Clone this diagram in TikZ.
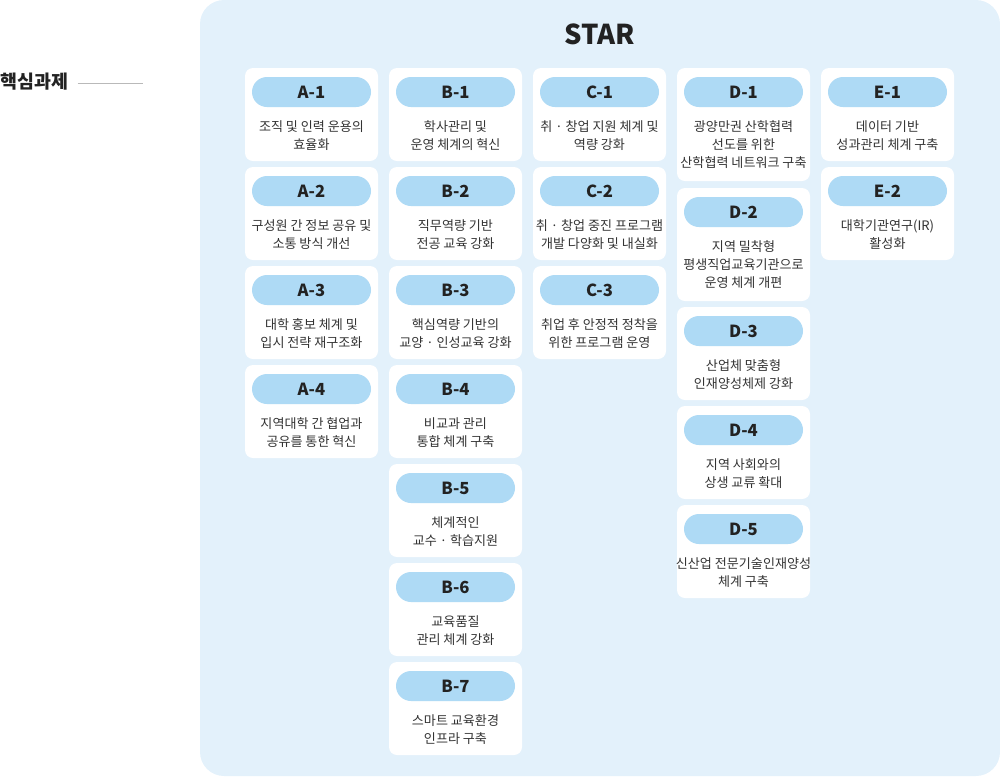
\documentclass[tikz,border=0pt]{standalone}
\usepackage{fontspec}
\setmainfont{Noto Sans CJK KR}
\usetikzlibrary{positioning}
\definecolor{panelbg}{HTML}{E3F1FB}
\definecolor{pillbg}{HTML}{AEDAF5}
\definecolor{ink}{HTML}{222222}
\definecolor{body}{HTML}{333333}

\begin{document}
\begin{tikzpicture}[x=0.75pt, y=-0.75pt,
  card/.style={draw=none, fill=white, rounded corners=6pt, anchor=north west,
    minimum width=99.75pt, minimum height=69.75pt, inner sep=0pt, outer sep=0pt},
  pill/.style={fill=pillbg, rounded corners=11.25pt, minimum width=89.25pt,
    minimum height=22.5pt, inner sep=0pt, outer sep=0pt, text=ink,
    font=\fontsize{12.5}{14}\selectfont\bfseries},
  desc/.style={align=center, inner sep=0pt, text=body,
    font=\fontsize{9.8}{13.5}\selectfont}]
\useasboundingbox (0,0) rectangle (1000,776);
% panel
\fill[panelbg, rounded corners=18pt] (200,0) rectangle (1000,776);
\node[text=ink, font=\fontsize{20.5}{24}\selectfont\bfseries] (star) at (600,34) {STAR};
% side title
\node[anchor=west, inner sep=0pt, text=ink, font=\fontsize{13.8}{15}\selectfont\bfseries] (core) at (0,82) {핵심과제};
\coordinate (coreend) at (143,83);
\draw[gray!55, line width=0.6pt] ([xshift=7pt]core.east |- coreend) -- (coreend);
% column A
\foreach \id/\lab/\top/\txt in {
  a1/A-1/68/{조직 및 인력 운용의\\효율화},
  a2/A-2/167/{구성원 간 정보 공유 및\\소통 방식 개선},
  a3/A-3/266/{대학 홍보 체계 및\\입시 전략 재구조화},
  a4/A-4/365/{지역대학 간 협업과\\공유를 통한 혁신}}{
  \node[card] (\id) at (245,\top) {};
  \node[pill] (\id p) at ([yshift=-18pt]\id.north) {\lab};
  \node[desc, below=10pt of \id p] (\id t) {\txt};
}
% column B
\foreach \id/\lab/\top/\txt in {
  b1/B-1/68/{학사관리 및\\운영 체계의 혁신},
  b2/B-2/167/{직무역량 기반\\전공 교육 강화},
  b3/B-3/266/{핵심역량 기반의\\교양 · 인성교육 강화},
  b4/B-4/365/{비교과 관리\\통합 체계 구축},
  b5/B-5/464/{체계적인\\교수 · 학습지원},
  b6/B-6/563/{교육품질\\관리 체계 강화},
  b7/B-7/662/{스마트 교육환경\\인프라 구축}}{
  \node[card] (\id) at (389,\top) {};
  \node[pill] (\id p) at ([yshift=-18pt]\id.north) {\lab};
  \node[desc, below=10pt of \id p] (\id t) {\txt};
}
% column C
\foreach \id/\lab/\top/\txt in {
  c1/C-1/68/{취 · 창업 지원 체계 및\\역량 강화},
  c2/C-2/167/{취 · 창업 중진 프로그램\\개발 다양화 및 내실화},
  c3/C-3/266/{취업 후 안정적 정착을\\위한 프로그램 운영}}{
  \node[card] (\id) at (533,\top) {};
  \node[pill] (\id p) at ([yshift=-18pt]\id.north) {\lab};
  \node[desc, below=10pt of \id p] (\id t) {\txt};
}
% column D (first two are taller)
\foreach \id/\lab/\top/\h/\txt in {
  d1/D-1/68/84.75/{광양만권 산학협력\\선도를 위한\\산학협력 네트워크 구축},
  d2/D-2/188/84.75/{지역 밀착형\\평생직업교육기관으로\\운영 체계 개편},
  d3/D-3/307/69.75/{산업체 맞춤형\\인재양성체제 강화},
  d4/D-4/406/69.75/{지역 사회와의\\상생 교류 확대},
  d5/D-5/505/69.75/{신산업 전문기술인재양성\\체계 구축}}{
  \node[card, minimum height=\h pt] (\id) at (677,\top) {};
  \node[pill] (\id p) at ([yshift=-18pt]\id.north) {\lab};
  \node[desc, below=10pt of \id p] (\id t) {\txt};
}
% column E
\foreach \id/\lab/\top/\txt in {
  e1/E-1/68/{데이터 기반\\성과관리 체계 구축},
  e2/E-2/167/{대학기관연구(IR)\\활성화}}{
  \node[card] (\id) at (821,\top) {};
  \node[pill] (\id p) at ([yshift=-18pt]\id.north) {\lab};
  \node[desc, below=10pt of \id p] (\id t) {\txt};
}
\end{tikzpicture}
\end{document}
